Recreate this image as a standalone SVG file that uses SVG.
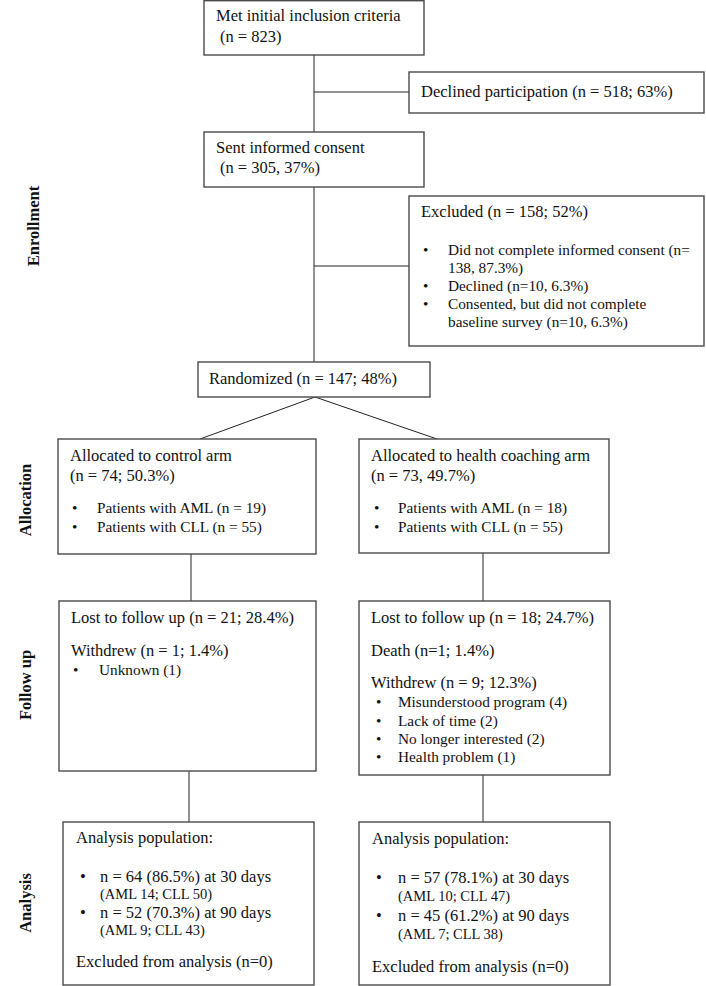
<svg xmlns="http://www.w3.org/2000/svg" width="706" height="986" viewBox="0 0 706 986">
<style>
.box{fill:#fff;stroke:#4a4a4a;stroke-width:1.4}
.ln{stroke:#222;stroke-width:1;fill:none}
text{font-family:"Liberation Serif","Times New Roman",serif;font-size:16.5px;fill:#111}
.b{font-size:15.3px}
.sm{font-size:14.5px}
.lab{font-weight:bold;font-size:16.5px;text-anchor:middle}
</style>
<rect width="706" height="986" fill="#fff"/>
<g id="connectors">
<line class="ln" x1="314" y1="55" x2="314" y2="132"/>
<line class="ln" x1="314" y1="92" x2="409" y2="92"/>
<line class="ln" x1="314" y1="187" x2="314" y2="362"/>
<line class="ln" x1="314" y1="266" x2="409" y2="266"/>
<line class="ln" x1="315" y1="397" x2="200" y2="439"/>
<line class="ln" x1="315" y1="397" x2="437" y2="439"/>
<line class="ln" x1="191" y1="554" x2="191" y2="601"/>
<line class="ln" x1="483" y1="553" x2="483" y2="601"/>
<line class="ln" x1="189" y1="771" x2="189" y2="822"/>
<line class="ln" x1="483" y1="775" x2="483" y2="822"/>
</g>
<g id="labels">
<text class="lab" transform="translate(39,226) rotate(-90)">Enrollment</text>
<text class="lab" transform="translate(31,500) rotate(-90)">Allocation</text>
<text class="lab" transform="translate(31,685) rotate(-90)">Follow up</text>
<text class="lab" transform="translate(31,903) rotate(-90)">Analysis</text>
</g>
<g id="met">
<rect class="box" x="204" y="0.7" width="220" height="54.3"/>
<text x="216" y="21">Met initial inclusion criteria</text>
<text x="220" y="42">(n = 823)</text>
</g>
<g id="declined">
<rect class="box" x="409" y="72" width="295" height="41"/>
<text x="421" y="97">Declined participation (n = 518; 63%)</text>
</g>
<g id="sent">
<rect class="box" x="204" y="132" width="220" height="55"/>
<text x="216" y="153">Sent informed consent</text>
<text x="220" y="173">(n = 305, 37%)</text>
</g>
<g id="excluded">
<rect class="box" x="409" y="196" width="295" height="150"/>
<text x="421" y="217">Excluded (n = 158; 52%)</text>
<text class="b" x="423" y="255">•</text><text class="b" x="448" y="255">Did not complete informed consent (n=</text>
<text class="b" x="448" y="273">138, 87.3%)</text>
<text class="b" x="423" y="291">•</text><text class="b" x="448" y="291">Declined (n=10, 6.3%)</text>
<text class="b" x="423" y="309">•</text><text class="b" x="448" y="309">Consented, but did not complete</text>
<text class="b" x="448" y="327">baseline survey (n=10, 6.3%)</text>
</g>
<g id="randomized">
<rect class="box" x="198" y="362" width="232" height="35"/>
<text x="209" y="384">Randomized (n = 147; 48%)</text>
</g>
<g id="alloc-control">
<rect class="box" x="58" y="439" width="258" height="115"/>
<text x="70" y="461">Allocated to control arm</text>
<text x="70" y="481">(n = 74; 50.3%)</text>
<text class="b" x="72" y="513">•</text><text class="b" x="97" y="513">Patients with AML (n = 19)</text>
<text class="b" x="72" y="532">•</text><text class="b" x="97" y="532">Patients with CLL (n = 55)</text>
</g>
<g id="alloc-coaching">
<rect class="box" x="359" y="439" width="250" height="114"/>
<text x="371" y="461">Allocated to health coaching arm</text>
<text x="371" y="481">(n = 73, 49.7%)</text>
<text class="b" x="374" y="513">•</text><text class="b" x="398" y="513">Patients with AML (n = 18)</text>
<text class="b" x="374" y="532">•</text><text class="b" x="398" y="532">Patients with CLL (n = 55)</text>
</g>
<g id="follow-control">
<rect class="box" x="59" y="601" width="257" height="170"/>
<text x="71" y="623">Lost to follow up (n = 21; 28.4%)</text>
<text x="71" y="656">Withdrew (n = 1; 1.4%)</text>
<text class="b" x="73" y="675">•</text><text class="b" x="99" y="675">Unknown (1)</text>
</g>
<g id="follow-coaching">
<rect class="box" x="359" y="601" width="251" height="174"/>
<text x="371" y="623">Lost to follow up (n = 18; 24.7%)</text>
<text x="371" y="656">Death (n=1; 1.4%)</text>
<text x="371" y="688">Withdrew (n = 9; 12.3%)</text>
<text class="b" x="376" y="707">•</text><text class="b" x="398" y="707">Misunderstood program (4)</text>
<text class="b" x="376" y="726">•</text><text class="b" x="398" y="726">Lack of time (2)</text>
<text class="b" x="376" y="744">•</text><text class="b" x="398" y="744">No longer interested (2)</text>
<text class="b" x="376" y="762">•</text><text class="b" x="398" y="762">Health problem (1)</text>
</g>
<g id="analysis-control">
<rect class="box" x="63" y="822" width="251" height="163"/>
<text x="76" y="843">Analysis population:</text>
<text x="80" y="882">•</text><text x="100" y="882">n = 64 (86.5%) at 30 days</text>
<text class="sm" x="100" y="899">(AML 14; CLL 50)</text>
<text x="80" y="918">•</text><text x="100" y="918">n = 52 (70.3%) at 90 days</text>
<text class="sm" x="100" y="935">(AML 9; CLL 43)</text>
<text x="76" y="967">Excluded from analysis (n=0)</text>
</g>
<g id="analysis-coaching">
<rect class="box" x="359" y="822" width="251" height="163"/>
<text x="372" y="844">Analysis population:</text>
<text x="376" y="883">•</text><text x="398" y="883">n = 57 (78.1%) at 30 days</text>
<text class="sm" x="398" y="901">(AML 10; CLL 47)</text>
<text x="376" y="921">•</text><text x="398" y="921">n = 45 (61.2%) at 90 days</text>
<text class="sm" x="398" y="939">(AML 7; CLL 38)</text>
<text x="372" y="972">Excluded from analysis (n=0)</text>
</g>
</svg>
